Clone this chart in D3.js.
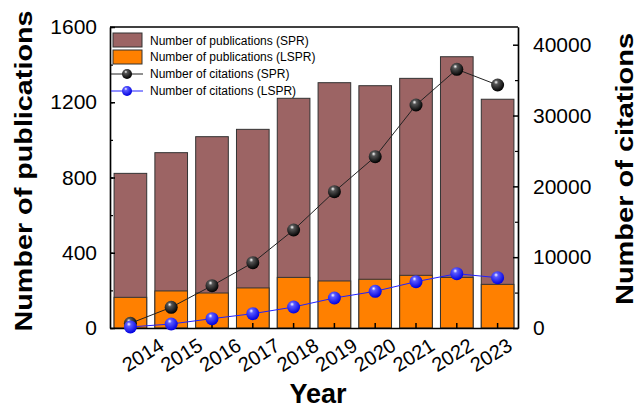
<!DOCTYPE html>
<html>
<head>
<meta charset="utf-8">
<script src="https://cdn.jsdelivr.net/npm/d3@7"></script>
<style>
  body { margin: 0; background: #fff; }
  text { font-family: "Liberation Sans", Arial, sans-serif; fill: #000; }
  .axis path, .axis line { stroke: #000; }
</style>
</head>
<body>
<script>
const years = ["2014", "2015", "2016", "2017", "2018", "2019", "2020", "2021", "2022", "2023"];
const pubSPR = [822, 932, 1017, 1056, 1221, 1304, 1288, 1327, 1442, 1216];
const pubLSPR = [163, 197, 186, 213, 269, 250, 259, 280, 269, 232];
const citSPR = [660, 2920, 5970, 9220, 13840, 19250, 24190, 31490, 36530, 34310];
const citLSPR = [150, 565, 1320, 2020, 2965, 4236, 5180, 6540, 7670, 7100];
const leftTicks = [0, 400, 800, 1200, 1600];
const rightTicks = [0, 10000, 20000, 30000, 40000];

const width = 638, height = 410;
const padding = {left: 110, right: 120, top: 27, bottom: 82};
const brown = "#9c6464", orange = "#ff8000";

const svg = d3.select("body").append("svg")
  .attr("width", width)
  .attr("height", height);

const defs = svg.append("defs");
function sphere(id, base, light) {
  const g = defs.append("radialGradient").attr("id", id)
    .attr("cx", "40%").attr("cy", "35%").attr("r", "65%")
    .attr("fx", "38%").attr("fy", "28%");
  g.append("stop").attr("offset", "0%").attr("stop-color", "#fff");
  g.append("stop").attr("offset", "25%").attr("stop-color", light);
  g.append("stop").attr("offset", "100%").attr("stop-color", base);
}
sphere("ballBlack", "#000", "#555");
sphere("ballBlue", "#0000e0", "#5a5aff");

const xScale = d3.scaleBand()
  .domain(years)
  .range([padding.left, width - padding.right])
  .paddingInner(0.2)
  .paddingOuter(0.1);

const yLeft = d3.scaleLinear()
  .domain([0, 1600])
  .range([height - padding.bottom, padding.top]);

const yRight = d3.scaleLinear()
  .domain([0, 42500])
  .range([height - padding.bottom, padding.top]);

const cx = (d, i) => xScale(years[i]) + xScale.bandwidth() / 2;

// bars (SPR behind, LSPR in front)
svg.append("g").selectAll("rect")
  .data(pubSPR)
  .enter()
  .append("rect")
  .attr("x", (d, i) => xScale(years[i]))
  .attr("y", d => yLeft(d))
  .attr("width", xScale.bandwidth())
  .attr("height", d => yLeft(0) - yLeft(d))
  .style("fill", brown)
  .style("stroke", "#333")
  .style("stroke-width", 1);

svg.append("g").selectAll("rect")
  .data(pubLSPR)
  .enter()
  .append("rect")
  .attr("x", (d, i) => xScale(years[i]))
  .attr("y", d => yLeft(d))
  .attr("width", xScale.bandwidth())
  .attr("height", d => yLeft(0) - yLeft(d))
  .style("fill", orange)
  .style("stroke", "#333")
  .style("stroke-width", 1);

// axes
const bottomY = height - padding.bottom;
svg.append("g")
  .attr("class", "axis")
  .attr("transform", "translate(0," + bottomY + ")")
  .call(d3.axisBottom(xScale).tickSize(-5).tickSizeOuter(0).tickFormat(""))
  .selectAll("path, line").style("stroke-width", 1.5);

svg.append("line")
  .attr("x1", padding.left).attr("x2", width - padding.right)
  .attr("y1", padding.top).attr("y2", padding.top)
  .style("stroke", "#000").style("stroke-width", 1.5);

const leftAxis = svg.append("g")
  .attr("class", "axis")
  .attr("transform", "translate(" + padding.left + ",0)")
  .call(d3.axisLeft(yLeft).tickValues(leftTicks).tickFormat(d3.format("d"))
    .tickSize(-5).tickSizeOuter(0).tickPadding(13));
leftAxis.selectAll("path, line").style("stroke-width", 1.5);
leftAxis.selectAll("text").style("font-size", "21px");

svg.append("g")
  .attr("class", "axis")
  .attr("transform", "translate(" + padding.left + ",0)")
  .call(d3.axisLeft(yLeft).ticks(8).tickSize(-3).tickSizeOuter(0).tickFormat(""))
  .selectAll("path, line").style("stroke-width", 1.2);

const rightAxis = svg.append("g")
  .attr("class", "axis")
  .attr("transform", "translate(" + (width - padding.right) + ",0)")
  .call(d3.axisRight(yRight).tickValues(rightTicks).tickFormat(d3.format("d"))
    .tickSize(-5).tickSizeOuter(0).tickPadding(15));
rightAxis.selectAll("path, line").style("stroke-width", 1.5);
rightAxis.selectAll("text").style("font-size", "21px");

svg.append("g")
  .attr("class", "axis")
  .attr("transform", "translate(" + (width - padding.right) + ",0)")
  .call(d3.axisRight(yRight).tickValues(d3.range(5000, 42500, 10000)).tickSize(-3).tickSizeOuter(0).tickFormat(""))
  .selectAll("path, line").style("stroke-width", 1.2);

// rotated year labels
const labelX = d3.scalePoint()
  .domain(years)
  .range([cx(0, 0) + 35, cx(0, years.length - 1) + 16]);

svg.append("g").selectAll("text")
  .data(years)
  .enter()
  .append("text")
  .attr("transform", d => "translate(" + labelX(d) + "," + (bottomY + 21) + ") rotate(-32)")
  .style("text-anchor", "end")
  .style("font-size", "20px")
  .text(d => d);

// citation lines
const lineSPR = d3.line().x(cx).y(d => yRight(d));
svg.append("path")
  .attr("d", lineSPR(citSPR))
  .style("fill", "none")
  .style("stroke", "#222")
  .style("stroke-width", 1);
svg.append("path")
  .attr("d", lineSPR(citLSPR))
  .style("fill", "none")
  .style("stroke", "#2020ff")
  .style("stroke-width", 1);

svg.append("g").selectAll("circle")
  .data(citSPR)
  .enter()
  .append("circle")
  .attr("cx", cx)
  .attr("cy", d => yRight(d))
  .attr("r", 6.5)
  .style("fill", "url(#ballBlack)");

svg.append("g").selectAll("circle")
  .data(citLSPR)
  .enter()
  .append("circle")
  .attr("cx", cx)
  .attr("cy", d => yRight(d))
  .attr("r", 6.5)
  .style("fill", "url(#ballBlue)");

// axis titles (stretched along their length, as in the original export)
svg.append("text")
  .attr("transform", "translate(32,171) rotate(-90)")
  .attr("textLength", 321)
  .attr("lengthAdjust", "spacingAndGlyphs")
  .style("text-anchor", "middle")
  .style("font-size", "24px")
  .style("font-weight", "bold")
  .text("Number of publications");

svg.append("text")
  .attr("transform", "translate(633,169) rotate(-90)")
  .attr("textLength", 272)
  .attr("lengthAdjust", "spacingAndGlyphs")
  .style("text-anchor", "middle")
  .style("font-size", "24px")
  .style("font-weight", "bold")
  .text("Number of citations");

svg.append("text")
  .attr("x", 318)
  .attr("y", 403)
  .style("text-anchor", "middle")
  .style("font-size", "27px")
  .style("font-weight", "bold")
  .text("Year");

// legend
const legend = svg.append("g").attr("transform", "translate(113,33)");
const legendItems = ["Number of publications (SPR)", "Number of publications (LSPR)",
  "Number of citations (SPR)", "Number of citations (LSPR)"];
const legendRows = [8, 23.5, 41, 58];
legend.append("rect").attr("x", 0).attr("y", 0).attr("width", 29).attr("height", 14)
  .style("fill", brown).style("stroke", "#333");
legend.append("rect").attr("x", 0).attr("y", 17).attr("width", 29).attr("height", 14)
  .style("fill", orange).style("stroke", "#333");
legend.append("line").attr("x1", -2).attr("x2", 30).attr("y1", legendRows[2]).attr("y2", legendRows[2])
  .style("stroke", "#222");
legend.append("circle").attr("cx", 14).attr("cy", legendRows[2]).attr("r", 5).style("fill", "url(#ballBlack)");
legend.append("line").attr("x1", -2).attr("x2", 30).attr("y1", legendRows[3]).attr("y2", legendRows[3])
  .style("stroke", "#2020ff");
legend.append("circle").attr("cx", 14).attr("cy", legendRows[3]).attr("r", 5).style("fill", "url(#ballBlue)");
legend.selectAll("text.item")
  .data(legendItems)
  .enter()
  .append("text")
  .attr("class", "item")
  .attr("x", 37)
  .attr("y", (d, i) => legendRows[i])
  .attr("dy", "0.35em")
  .style("font-size", "12px")
  .text(d => d);
</script>
</body>
</html>
